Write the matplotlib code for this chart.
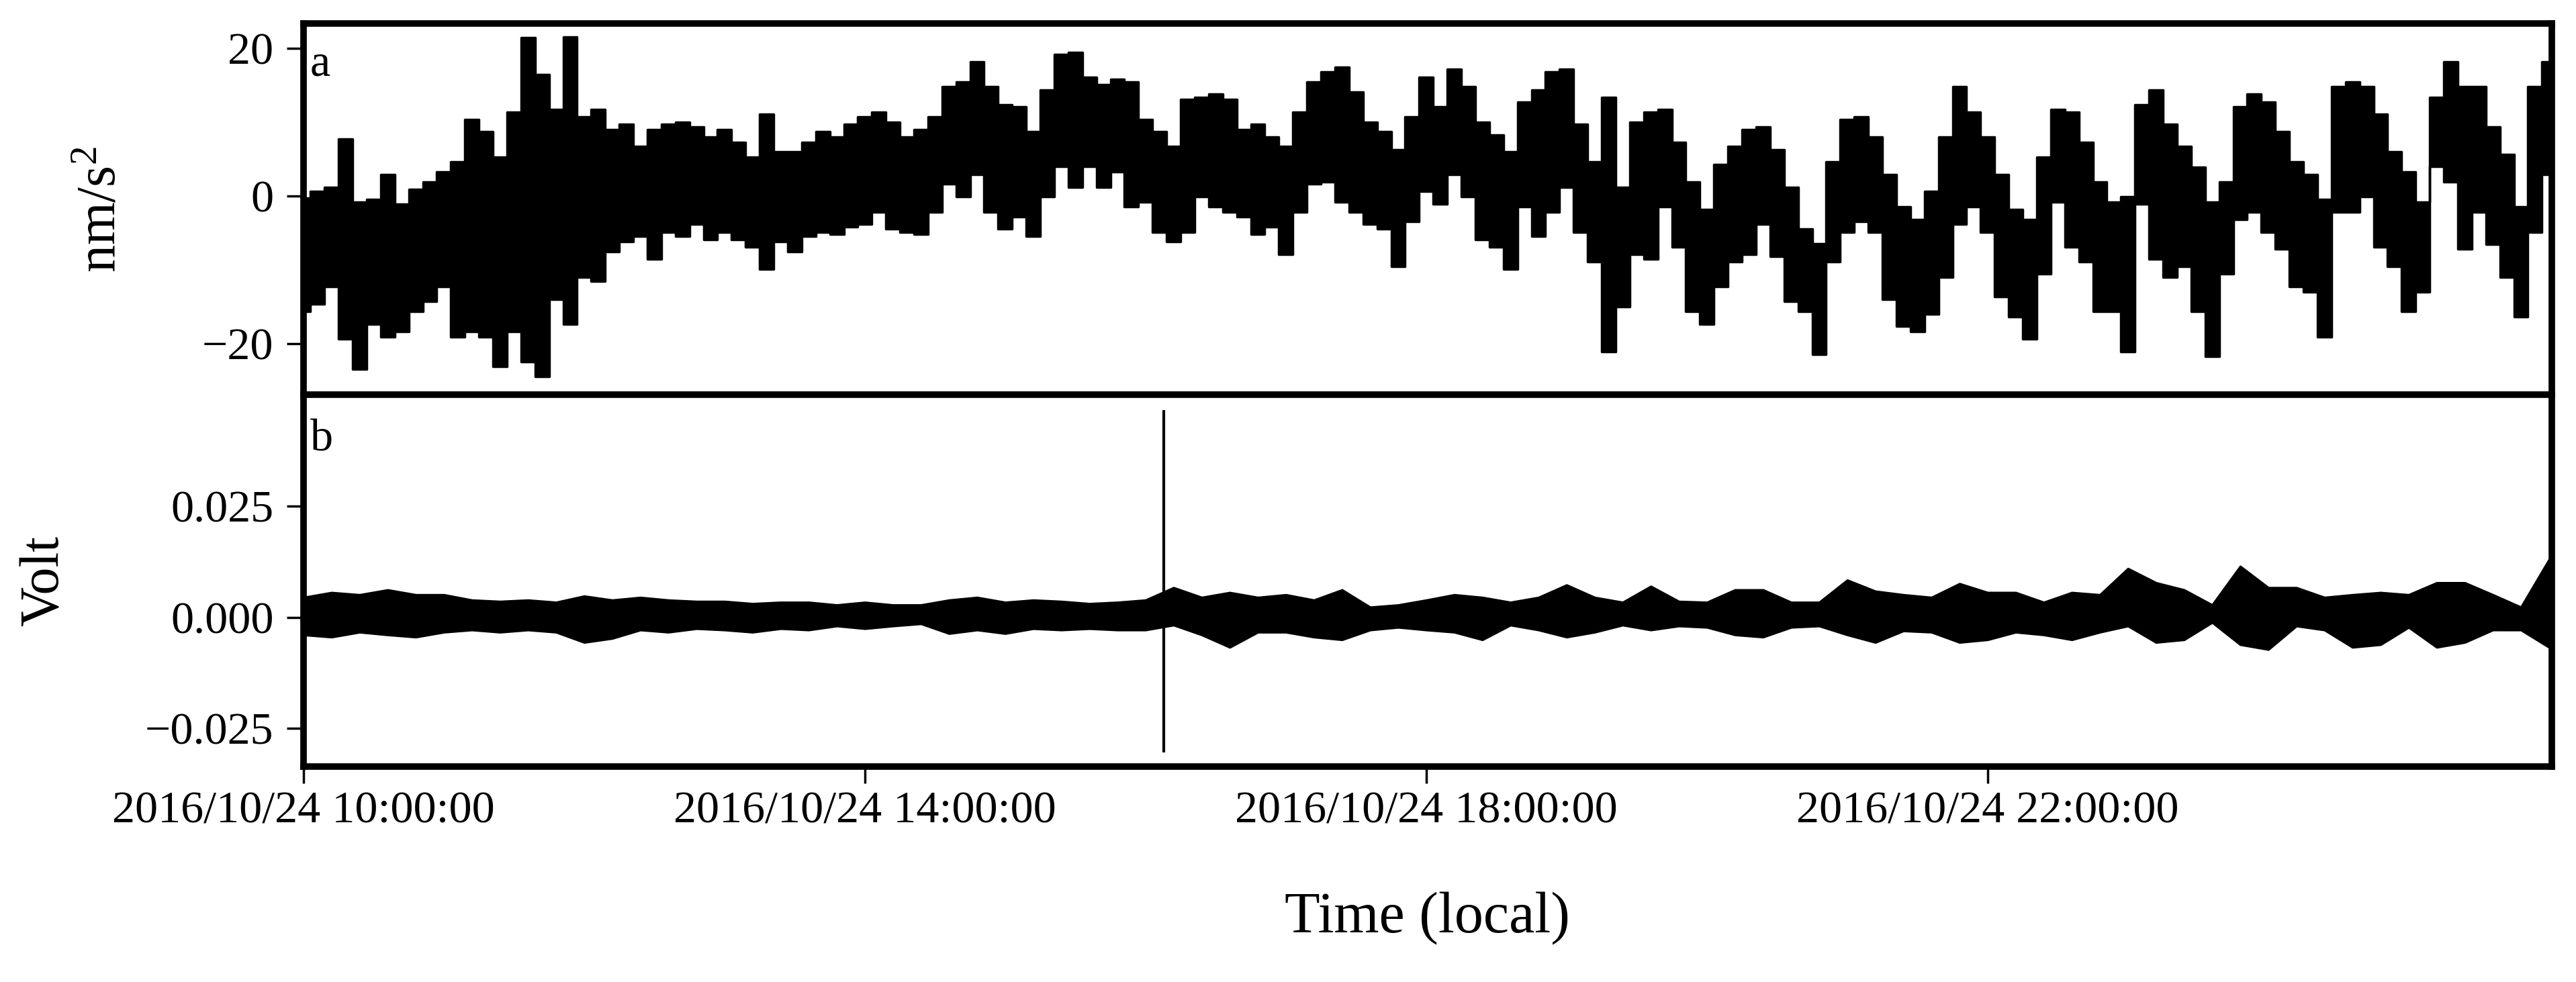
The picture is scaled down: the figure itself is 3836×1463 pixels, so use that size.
import numpy as np
import matplotlib
matplotlib.use('Agg')
import matplotlib.pyplot as plt
import matplotlib.dates as mdates
import matplotlib.ticker as ticker
from datetime import datetime

plt.rcParams['font.family'] = ['Liberation Serif', 'DejaVu Serif']
plt.rcParams['mathtext.fontset'] = 'custom'
plt.rcParams['mathtext.rm'] = 'Liberation Serif'
plt.rcParams['mathtext.it'] = 'Liberation Serif:italic'

# start of record, local time
t_start = datetime(2016, 10, 24, 10, 0, 0)

# panel a: gravimeter trace, upper / lower envelope read every 6 min (nm/s^2)
acc_hours = np.round(np.arange(161) * 0.1, 1)
acc_hi = [-0.3, 0.6, 1.2, 7.7, -0.8, -0.5, 2.9, -1.1, 0.9, 1.9,
          3.3, 4.6, 10.4, 8.7, 5.3, 11.4, 21.5, 16.5, 11.7, 21.6,
          10.7, 11.7, 9.0, 9.7, 6.7, 9.0, 9.7, 10.0, 9.4, 8.0,
          9.0, 7.3, 5.3, 11.1, 6.0, 6.0, 7.3, 8.7, 8.0, 9.7,
          10.7, 11.4, 10.0, 8.0, 9.0, 10.7, 14.8, 15.5, 18.2, 14.8,
          12.4, 12.1, 8.7, 14.4, 19.2, 19.5, 16.1, 15.1, 15.8, 15.5,
          10.4, 8.7, 6.7, 13.1, 13.4, 13.8, 13.1, 9.0, 9.7, 8.0,
          6.7, 11.4, 15.5, 16.8, 17.5, 14.1, 10.0, 8.7, 6.3, 10.7,
          16.1, 12.1, 17.2, 14.8, 10.0, 8.3, 6.0, 12.7, 14.4, 16.8,
          17.2, 9.7, 4.6, 13.4, 1.2, 10.0, 11.4, 11.7, 7.3, 1.9,
          -1.8, 4.3, 6.7, 9.0, 9.4, 6.3, 1.2, -4.5, -6.5, 4.6,
          10.4, 10.7, 8.0, 2.9, -1.5, -3.2, 0.6, 8.0, 14.8, 11.4,
          8.0, 2.9, -1.8, -3.2, 5.3, 11.7, 11.4, 7.3, 1.9, -0.8,
          -0.1, 12.4, 14.4, 9.7, 6.7, 3.9, -0.8, 1.9, 12.1, 13.8,
          12.7, 8.7, 4.6, 2.9, -0.5, 14.8, 15.5, 14.8, 11.1, 6.0,
          3.3, -0.8, 13.4, 18.2, 14.8, 14.8, 9.4, 5.6, -1.5, 14.8,
          18.2]
acc_lo = [-15.7, -14.7, -12.3, -19.4, -23.5, -17.4, -19.1, -18.4, -15.7, -14.3,
          -12.3, -19.1, -18.4, -19.1, -23.1, -18.4, -22.5, -24.5, -14.0, -17.4,
          -11.0, -11.6, -7.6, -6.2, -5.5, -8.6, -4.9, -5.5, -3.8, -5.9,
          -4.9, -5.9, -6.9, -9.9, -6.2, -7.6, -5.5, -4.9, -5.2, -4.2,
          -3.8, -2.2, -4.5, -4.9, -5.2, -2.2, 1.6, -0.1, 2.9, -2.2,
          -4.5, -2.8, -5.5, -0.1, 4.0, 1.2, 4.0, 1.2, 3.3, -1.5,
          -0.8, -4.9, -6.2, -4.9, -0.1, -1.5, -2.2, -2.8, -5.2, -4.2,
          -7.9, -2.2, 1.6, 1.9, -0.8, -2.2, -3.8, -4.5, -9.6, -3.5,
          0.6, -1.1, 2.9, -0.1, -5.9, -6.9, -9.9, -1.5, -5.5, -2.2,
          1.2, -4.9, -8.9, -21.1, -15.0, -7.9, -8.6, -1.5, -6.9, -15.7,
          -17.4, -12.3, -8.9, -7.9, -3.8, -8.2, -14.3, -15.7, -21.5, -8.9,
          -4.9, -3.5, -4.9, -14.0, -17.7, -18.4, -16.0, -11.0, -3.8, -1.5,
          -4.9, -13.7, -16.4, -19.4, -10.6, -0.8, -6.9, -8.9, -15.7, -15.7,
          -21.1, -1.1, -8.6, -11.0, -9.6, -15.7, -21.8, -10.6, -3.2, -2.2,
          -4.9, -7.2, -12.3, -13.0, -19.1, -2.2, -2.2, -0.1, -6.9, -9.6,
          -15.7, -13.0, 4.0, 1.9, -7.2, -2.2, -6.6, -11.0, -16.4, -4.9,
          2.9]

# panel b: voltage trace, envelope read every 12 min (V)
volt_hours = np.round(np.arange(81) * 0.2, 1)
volt_hi = [0.0045, 0.0056, 0.0051, 0.0062, 0.0051, 0.0051, 0.0039, 0.0036, 0.0039, 0.0034,
           0.0048, 0.0039, 0.0045, 0.0039, 0.0036, 0.0036, 0.0031, 0.0034, 0.0034, 0.0028,
           0.0034, 0.0028, 0.0028, 0.0039, 0.0045, 0.0034, 0.0039, 0.0036, 0.0031, 0.0034,
           0.0039, 0.0067, 0.0045, 0.0056, 0.0045, 0.0051, 0.0039, 0.0062, 0.0023, 0.0028,
           0.0039, 0.0051, 0.0045, 0.0034, 0.0045, 0.0073, 0.0045, 0.0034, 0.0070, 0.0036,
           0.0034, 0.0062, 0.0062, 0.0034, 0.0034, 0.0084, 0.0059, 0.0051, 0.0045, 0.0076,
           0.0056, 0.0056, 0.0034, 0.0056, 0.0051, 0.0110, 0.0078, 0.0062, 0.0028, 0.0115,
           0.0067, 0.0067, 0.0045, 0.0051, 0.0056, 0.0051, 0.0078, 0.0078, 0.0051, 0.0023,
           0.0130]
volt_lo = [-0.0039, -0.0044, -0.0033, -0.0039, -0.0044, -0.0033, -0.0028, -0.0033, -0.0028, -0.0033,
           -0.0056, -0.0047, -0.0028, -0.0033, -0.0025, -0.0028, -0.0033, -0.0025, -0.0028, -0.0019,
           -0.0025, -0.0019, -0.0014, -0.0036, -0.0028, -0.0036, -0.0025, -0.0028, -0.0025, -0.0028,
           -0.0028, -0.0017, -0.0039, -0.0067, -0.0033, -0.0033, -0.0044, -0.0050, -0.0028, -0.0022,
           -0.0028, -0.0033, -0.0050, -0.0017, -0.0028, -0.0044, -0.0033, -0.0017, -0.0028, -0.0019,
           -0.0022, -0.0039, -0.0044, -0.0022, -0.0019, -0.0039, -0.0056, -0.0030, -0.0033, -0.0056,
           -0.0050, -0.0033, -0.0039, -0.0050, -0.0033, -0.0019, -0.0056, -0.0050, -0.0011, -0.0061,
           -0.0072, -0.0019, -0.0028, -0.0067, -0.0061, -0.0022, -0.0067, -0.0056, -0.0028, -0.0028,
           -0.0067]

# single large pulse in the voltage record
pulse_hours = [6.13]
pulse_hi = [0.0467]
pulse_lo = [-0.0304]

tick_hours = [0, 4, 8, 12]


def to_dates(hours):
    return mdates.date2num(t_start) + np.asarray(hours) / 24.0


fig, (ax1, ax2) = plt.subplots(2, 1, figsize=(38.36, 14.63), dpi=100, sharex=True)
fig.subplots_adjust(left=0.1178, right=0.9906, top=0.9761, bottom=0.2194, hspace=0)

xa = to_dates(acc_hours)
ax1.fill_between(xa, acc_lo, acc_hi, step='mid', color='black', linewidth=2.5)
ax1.set_ylim(-27.0, 23.4)
ax1.set_yticks([-20, 0, 20])
ax1.set_ylabel('nm/s$^2$', fontsize=59, labelpad=80)
ax1.text(0.003, 0.86, 'a', transform=ax1.transAxes, fontsize=49)

xv = to_dates(volt_hours)
ax2.fill_between(xv, volt_lo, volt_hi, color='black', linewidth=2.5)
ax2.vlines(to_dates(pulse_hours), pulse_lo, pulse_hi, color='black', linewidth=3)
ax2.set_ylim(-0.0336, 0.0501)
ax2.set_yticks([-0.025, 0.0, 0.025])
ax2.yaxis.set_major_formatter(ticker.FuncFormatter(
    lambda v, pos: ('%.3f' % v).replace('-', '\u2212')))
ax2.set_ylabel('Volt', fontsize=59, labelpad=80)
ax2.text(0.003, 0.85, 'b', transform=ax2.transAxes, fontsize=49)

ax2.set_xlim(to_dates(0), to_dates(16.02))
ax2.set_xticks(to_dates(tick_hours))
ax2.xaxis.set_major_formatter(mdates.DateFormatter('%Y/%m/%d %H:%M:%S'))
ax2.set_xlabel('Time (local)', fontsize=62, labelpad=65)

for ax in (ax1, ax2):
    for side in ['top', 'bottom', 'left', 'right']:
        ax.spines[side].set_linewidth(7)
    ax.tick_params(axis='y', labelsize=49, length=18, width=2.5, pad=14)
    ax.tick_params(axis='x', labelsize=49, length=18, width=2.5, pad=8)
ax1.tick_params(axis='x', bottom=False, labelbottom=False)

fig.savefig('out.png', dpi=100)
